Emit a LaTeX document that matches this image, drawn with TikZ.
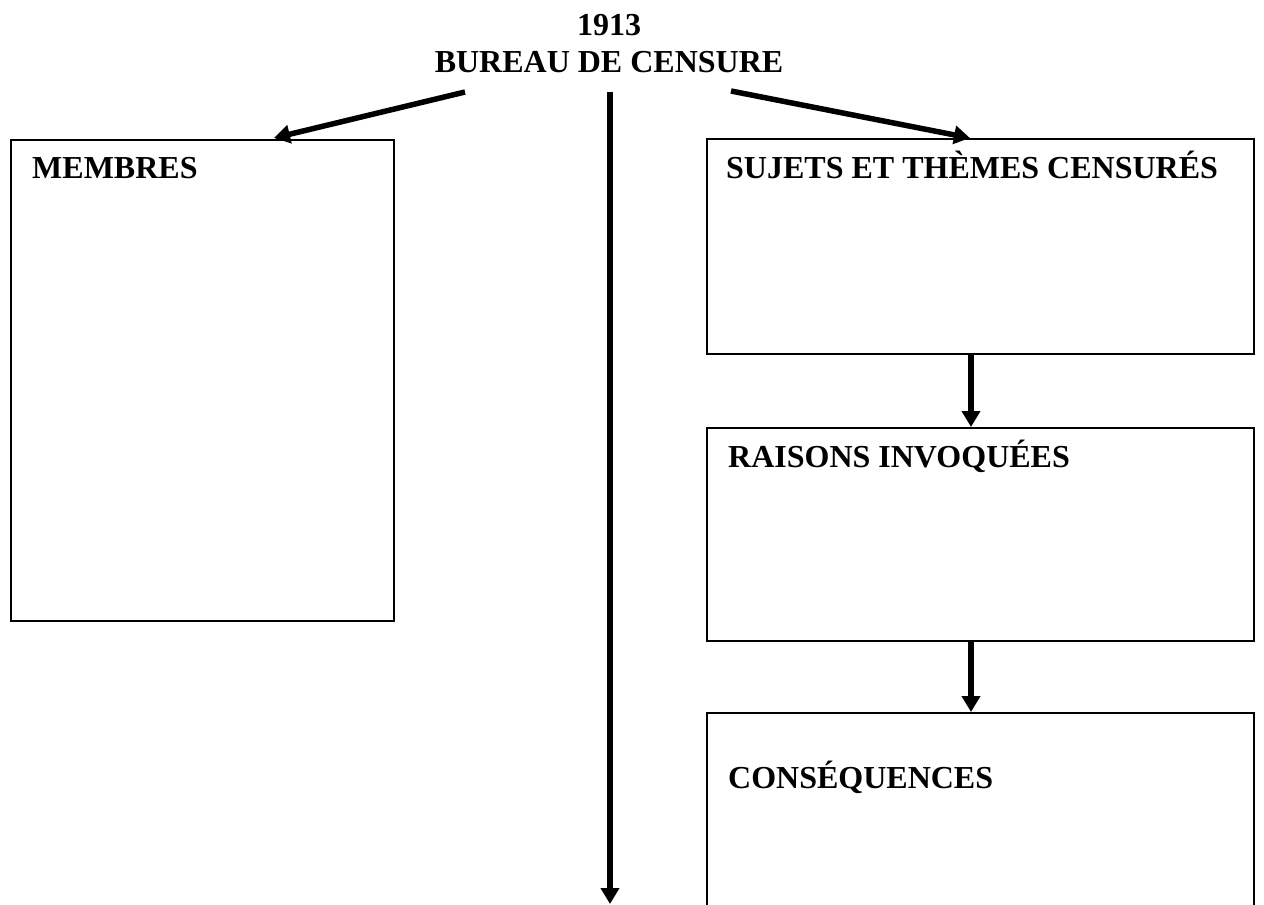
\documentclass[tikz,border=0pt]{standalone}
\usepackage{fontspec}
\setmainfont{Liberation Serif}
\usetikzlibrary{arrows.meta}
\begin{document}
\begin{tikzpicture}[x=1pt,y=-1pt,
  txt/.style={font=\fontsize{32}{37}\selectfont\bfseries, inner sep=0pt},
  box/.style={draw, line width=2.2pt, inner sep=0pt, anchor=north west},
  thick arrow/.style={line width=5.5pt, -{Triangle[length=16pt,width=18pt]}},
]
\useasboundingbox (0,0) rectangle (1264,905);
\fill[white] (0,0) rectangle (1264,905);
% title
\node[txt, anchor=base] (year) at (609,35) {1913};
\node[txt, anchor=base] (title) at (609,72) {BUREAU DE CENSURE};
% boxes
\node[box, minimum width=383pt, minimum height=481pt] (membres) at (10,139) {};
\node[box, minimum width=547pt, minimum height=215pt] (sujets) at (706,138) {};
\node[box, minimum width=547pt, minimum height=213pt] (raisons) at (706,427) {};
\node[box, minimum width=547pt, minimum height=260pt] (cons) at (706,712) {};
% labels
\node[txt, anchor=base west] (lmembres) at (32,178) {MEMBRES};
\node[txt, anchor=base west] (lsujets) at (726,178) {SUJETS ET THÈMES CENSURÉS};
\node[txt, anchor=base west] (lraisons) at (728,467) {RAISONS INVOQUÉES};
\node[txt, anchor=base west] (lcons) at (728,788) {CONSÉQUENCES};
% arrow anchors
\coordinate (sl) at (465,92);
\coordinate (sm) at (610,92);
\coordinate (sr) at (731,91);
\coordinate (tl) at (274,138);
\coordinate (tr) at (970,138);
\coordinate (tm) at (610,904);
\draw[thick arrow] (sl) -- (tl);
\draw[thick arrow] (sr) -- (tr);
\draw[thick arrow] (sm) -- (tm);
\draw[thick arrow] (sujets.south -| 971,0) -- (raisons.north -| 971,0);
\draw[thick arrow] (raisons.south -| 971,0) -- (cons.north -| 971,0);
\end{tikzpicture}
\end{document}
